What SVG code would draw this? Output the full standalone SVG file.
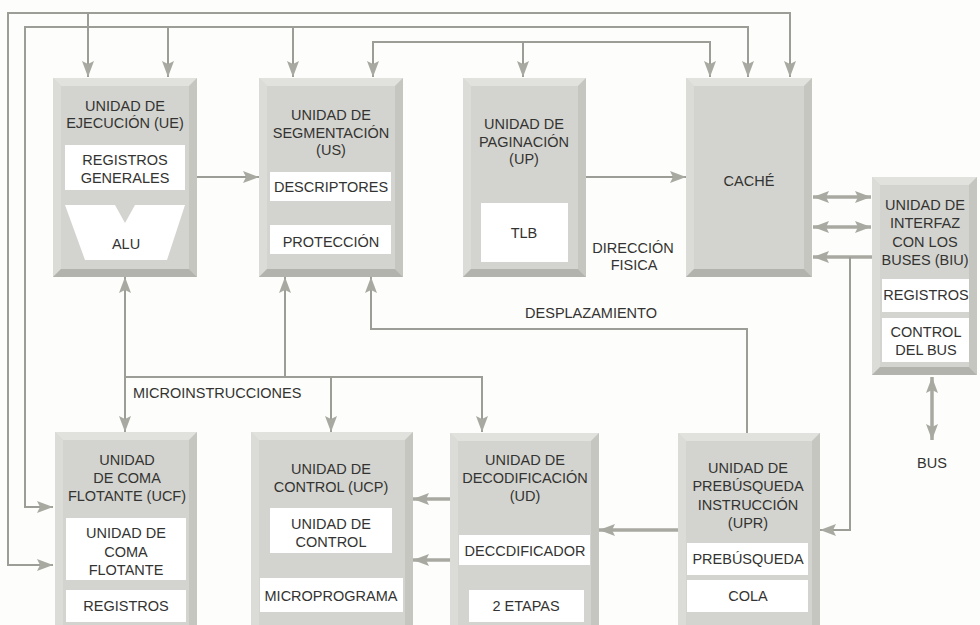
<svg xmlns="http://www.w3.org/2000/svg" width="980" height="625" viewBox="0 0 980 625">
<defs>
<style>
.bg{fill:#fdfdfb}
.face{fill:#d3d3cf}
.bt{fill:#e1e1dd}
.bl{fill:#dbdbd7}
.br{fill:#c6c6c1}
.bb{fill:#b3b3ad}
.w{fill:#ffffff}
.t{font-family:"Liberation Sans",Arial,sans-serif;font-size:14.5px;fill:#333331;text-anchor:middle}
.tl{text-anchor:start}
.c{fill:none;stroke:#9d9d97;stroke-width:2}
.c3{stroke-width:3.5;stroke:#a9a9a2}
</style>
<marker id="ah" viewBox="0 0 16 12" refX="16" refY="6" markerWidth="16" markerHeight="12" markerUnits="userSpaceOnUse" orient="auto-start-reverse">
<path d="M0,0 L16,6 L0,12 L3,6 Z" fill="#a8a9a1"/>
</marker>
</defs>
<rect class="bg" x="0" y="0" width="980" height="625"/>

<g id="connectors">
<path class="c" d="M53,565 H8 V13 H790 V77" marker-start="url(#ah)" marker-end="url(#ah)"/>
<path class="c" d="M88,13 V77" marker-end="url(#ah)"/>
<path class="c" d="M53,507 H25 V27 H748 V77" marker-start="url(#ah)" marker-end="url(#ah)"/>
<path class="c" d="M168,27 V77" marker-end="url(#ah)"/>
<path class="c" d="M293,27 V77" marker-end="url(#ah)"/>
<path class="c" d="M373,77 V42 H710 V77" marker-start="url(#ah)" marker-end="url(#ah)"/>
<path class="c" d="M523,42 V77" marker-end="url(#ah)"/>
<path class="c" d="M197,177 H259" marker-end="url(#ah)"/>
<path class="c" d="M586,177 H686" marker-end="url(#ah)"/>
<path class="c c3" d="M813,197 H871" marker-start="url(#ah)" marker-end="url(#ah)"/>
<path class="c c3" d="M813,227 H871" marker-start="url(#ah)" marker-end="url(#ah)"/>
<path class="c c3" d="M872,257 H813" marker-end="url(#ah)"/>
<path class="c" d="M850,257 V530 H820" marker-end="url(#ah)"/>
<path class="c c3" d="M932,377 V440" marker-start="url(#ah)" marker-end="url(#ah)"/>
<path class="c c3" d="M678,530 H599" marker-end="url(#ah)"/>
<path class="c c3" d="M450,499 H413" marker-end="url(#ah)"/>
<path class="c c3" d="M450,560 H413" marker-end="url(#ah)"/>
<path class="c" d="M747,433 V329 H371 V277" marker-end="url(#ah)"/>
<path class="c" d="M125,277 V432" marker-start="url(#ah)" marker-end="url(#ah)"/>
<path class="c" d="M125,377 H482 V432" marker-end="url(#ah)"/>
<path class="c" d="M285,377 V277" marker-end="url(#ah)"/>
<path class="c" d="M331,377 V432" marker-end="url(#ah)"/>
<text class="t tl" x="133" y="398">MICROINSTRUCCIONES</text>
<text class="t" x="591" y="318">DESPLAZAMIENTO</text>
<text class="t" x="633" y="253">DIRECCIÓN</text>
<text class="t" x="634" y="270">FISICA</text>
<text class="t" x="932" y="468">BUS</text>
</g>

<g id="ue">
<rect class="face" x="53" y="78" width="144" height="199"/>
<polygon class="bt" points="53,78 197,78 189,86 61,86"/>
<polygon class="bl" points="53,78 61,86 61,269 53,277"/>
<polygon class="br" points="197,78 197,277 189,269 189,86"/>
<polygon class="bb" points="53,277 61,269 189,269 197,277"/>
<text class="t" x="125" y="111">UNIDAD DE</text>
<text class="t" x="125" y="128">EJECUCIÓN (UE)</text>
<rect class="w" x="65" y="145" width="120" height="45"/>
<text class="t" x="125" y="165">REGISTROS</text>
<text class="t" x="125" y="183">GENERALES</text>
<polygon class="w" points="65,205 115,205 125,223 135,205 185,205 167,260 85,260"/>
<text class="t" x="126" y="249">ALU</text>
</g>

<g id="us">
<rect class="face" x="259" y="78" width="144" height="199"/>
<polygon class="bt" points="259,78 403,78 395,86 267,86"/>
<polygon class="bl" points="259,78 267,86 267,269 259,277"/>
<polygon class="br" points="403,78 403,277 395,269 395,86"/>
<polygon class="bb" points="259,277 267,269 395,269 403,277"/>
<text class="t" x="331" y="120">UNIDAD DE</text>
<text class="t" x="331" y="138">SEGMENTACIÓN</text>
<text class="t" x="331" y="155">(US)</text>
<rect class="w" x="270" y="172" width="121" height="29"/>
<text class="t" x="331" y="192">DESCRIPTORES</text>
<rect class="w" x="270" y="225" width="121" height="29"/>
<text class="t" x="331" y="247">PROTECCIÓN</text>
</g>

<g id="up">
<rect class="face" x="463" y="78" width="123" height="199"/>
<polygon class="bt" points="463,78 586,78 578,86 471,86"/>
<polygon class="bl" points="463,78 471,86 471,269 463,277"/>
<polygon class="br" points="586,78 586,277 578,269 578,86"/>
<polygon class="bb" points="463,277 471,269 578,269 586,277"/>
<text class="t" x="524" y="129">UNIDAD DE</text>
<text class="t" x="524" y="147">PAGINACIÓN</text>
<text class="t" x="524" y="164">(UP)</text>
<rect class="w" x="481" y="203" width="87" height="59"/>
<text class="t" x="524" y="238">TLB</text>
</g>

<g id="cache">
<rect class="face" x="686" y="78" width="126" height="199"/>
<polygon class="bt" points="686,78 812,78 804,86 694,86"/>
<polygon class="bl" points="686,78 694,86 694,269 686,277"/>
<polygon class="br" points="812,78 812,277 804,269 804,86"/>
<polygon class="bb" points="686,277 694,269 804,269 812,277"/>
<text class="t" x="749" y="186">CACHÉ</text>
</g>

<g id="biu">
<rect class="face" x="872" y="177" width="105" height="198"/>
<polygon class="bt" points="872,177 977,177 969,185 880,185"/>
<polygon class="bl" points="872,177 880,185 880,367 872,375"/>
<polygon class="br" points="977,177 977,375 969,367 969,185"/>
<polygon class="bb" points="872,375 880,367 969,367 977,375"/>
<text class="t" x="925" y="210">UNIDAD DE</text>
<text class="t" x="925" y="228">INTERFAZ</text>
<text class="t" x="925" y="247">CON LOS</text>
<text class="t" x="925" y="265">BUSES (BIU)</text>
<rect class="w" x="882" y="279" width="87" height="33"/>
<text class="t" x="926" y="300">REGISTROS</text>
<rect class="w" x="882" y="318" width="87" height="44"/>
<text class="t" x="926" y="337">CONTROL</text>
<text class="t" x="926" y="355">DEL BUS</text>
</g>

<g id="ucf">
<rect class="face" x="55" y="432" width="142" height="200"/>
<polygon class="bt" points="55,432 197,432 189,440 63,440"/>
<polygon class="bl" points="55,432 63,440 63,632 55,632"/>
<polygon class="br" points="197,432 197,632 189,632 189,440"/>
<text class="t" x="127" y="465">UNIDAD</text>
<text class="t" x="127" y="483">DE COMA</text>
<text class="t" x="127" y="501">FLOTANTE (UCF)</text>
<rect class="w" x="66" y="518" width="120" height="62"/>
<text class="t" x="126" y="538">UNIDAD DE</text>
<text class="t" x="126" y="557">COMA</text>
<text class="t" x="126" y="575">FLOTANTE</text>
<rect class="w" x="66" y="590" width="120" height="32"/>
<text class="t" x="126" y="611">REGISTROS</text>
</g>

<g id="ucp">
<rect class="face" x="251" y="432" width="162" height="200"/>
<polygon class="bt" points="251,432 413,432 405,440 259,440"/>
<polygon class="bl" points="251,432 259,440 259,632 251,632"/>
<polygon class="br" points="413,432 413,632 405,632 405,440"/>
<text class="t" x="331" y="474">UNIDAD DE</text>
<text class="t" x="331" y="492">CONTROL (UCP)</text>
<rect class="w" x="270" y="508" width="122" height="45"/>
<text class="t" x="331" y="529">UNIDAD DE</text>
<text class="t" x="331" y="547">CONTROL</text>
<rect class="w" x="260" y="578" width="143" height="34"/>
<text class="t" x="331" y="601">MICROPROGRAMA</text>
</g>

<g id="ud">
<rect class="face" x="450" y="433" width="149" height="200"/>
<polygon class="bt" points="450,433 599,433 591,441 458,441"/>
<polygon class="bl" points="450,433 458,441 458,632 450,632"/>
<polygon class="br" points="599,433 599,632 591,632 591,441"/>
<text class="t" x="525" y="465">UNIDAD DE</text>
<text class="t" x="525" y="483">DECODIFICACIÓN</text>
<text class="t" x="525" y="501">(UD)</text>
<rect class="w" x="459" y="535" width="131" height="30"/>
<text class="t" x="525" y="556">DECCDIFICADOR</text>
<rect class="w" x="469" y="590" width="115" height="32"/>
<text class="t" x="526" y="611">2 ETAPAS</text>
</g>

<g id="upr">
<rect class="face" x="678" y="433" width="142" height="200"/>
<polygon class="bt" points="678,433 820,433 812,441 686,441"/>
<polygon class="bl" points="678,433 686,441 686,632 678,632"/>
<polygon class="br" points="820,433 820,632 812,632 812,441"/>
<text class="t" x="748" y="473">UNIDAD DE</text>
<text class="t" x="748" y="491">PREBÚSQUEDA</text>
<text class="t" x="748" y="510">INSTRUCCIÓN</text>
<text class="t" x="748" y="528">(UPR)</text>
<rect class="w" x="687" y="543" width="121" height="32"/>
<text class="t" x="748" y="564">PREBÚSQUEDA</text>
<rect class="w" x="687" y="580" width="121" height="32"/>
<text class="t" x="748" y="601">COLA</text>
</g>
</svg>
